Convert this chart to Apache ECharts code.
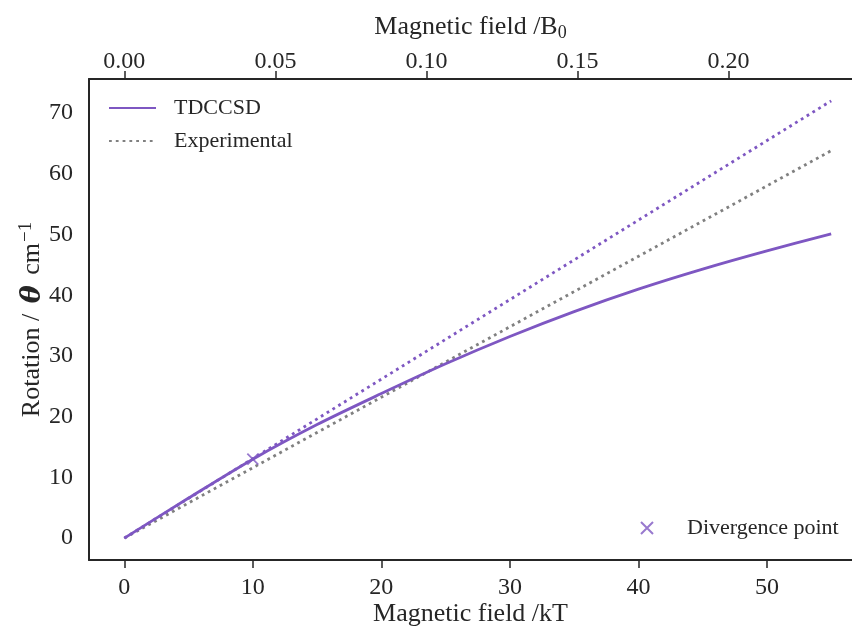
<!DOCTYPE html>
<html>
<head>
<meta charset="utf-8">
<script src="https://cdn.jsdelivr.net/npm/echarts@6/dist/echarts.min.js"></script>
<style>html,body{margin:0;padding:0;background:#fff}#c{width:852px;height:628px}</style>
</head>
<body>
<div id="c"></div>
<script>
// Data (magnetic field in kT, rotation in cm^-1)
const fieldKT = [0, 5, 10, 15, 20, 25, 30, 35, 40, 45, 50, 55];
const tdccsd = [0, 6.6, 13.0, 18.7, 23.8, 28.7, 33.2, 37.3, 41.0, 44.3, 47.3, 50.1];
const extrapField = [0, 55];
const extrapValues = [0, 72.0];
const experimentalField = [0, 55];
const experimentalValues = [0, 63.8];
const divergenceField = [10];
const divergenceValues = [13.0];
const bottomTicks = [0, 10, 20, 30, 40, 50];
const topTicks = [0, 0.05, 0.10, 0.15, 0.20];
const yTicks = [0, 10, 20, 30, 40, 50, 60, 70];
const B0_kT = 235.05;

const pairs = (xs, ys) => xs.map((x, i) => [x, ys[i]]);
const purple = '#7e57c2';
const gray = '#808080';
const ink = '#262626';
const font = 'Liberation Serif';
const xMin = -2.75, xMax = 56.62;

const chart = echarts.init(document.getElementById('c'), null, {renderer: 'canvas'});
chart.setOption({
  backgroundColor: '#fff',
  animation: false,
  textStyle: {fontFamily: font, color: ink},
  grid: {left: 89, top: 79, right: 0, height: 481, containLabel: false, outerBoundsMode: 'none'},
  xAxis: [
    {
      type: 'value', position: 'bottom', min: xMin, max: xMax,
      name: 'Magnetic field /kT', nameLocation: 'middle', nameGap: 41, nameMoveOverlap: false,
      nameTextStyle: {fontFamily: font, fontSize: 26, color: ink},
      axisLine: {show: true, onZero: false, lineStyle: {color: ink, width: 2}},
      axisTick: {show: true, length: 8, customValues: bottomTicks, lineStyle: {color: ink, width: 1.5}},
      axisLabel: {customValues: bottomTicks, margin: 16, fontFamily: font, fontSize: 24, color: ink},
      splitLine: {show: false}
    },
    {
      type: 'value', position: 'top', min: xMin / B0_kT, max: xMax / B0_kT,
      name: 'Magnetic field /B{sub|0}', nameLocation: 'middle', nameGap: 37,
      nameTextStyle: {fontFamily: font, fontSize: 26, color: ink,
        rich: {sub: {fontFamily: font, fontSize: 18, color: ink, verticalAlign: 'bottom', padding: [12, 0, 0, 0]}}},
      axisLine: {show: true, onZero: false, lineStyle: {color: ink, width: 2}},
      axisTick: {show: true, length: 8, customValues: topTicks, lineStyle: {color: ink, width: 1.5}},
      axisLabel: {customValues: topTicks, margin: 5, fontFamily: font, fontSize: 24, color: ink,
        formatter: v => v.toFixed(2)},
      splitLine: {show: false}
    }
  ],
  yAxis: {
    type: 'value', min: -3.6, max: 75.6,
    name: 'Rotation / {th|θ} cm{sup|−1}', nameLocation: 'middle', nameGap: 41, nameRotate: 90, nameMoveOverlap: false,
    nameTextStyle: {fontFamily: font, fontSize: 26, color: ink,
      rich: {
        th: {fontFamily: 'DejaVu Serif', fontStyle: 'italic', fontWeight: 'bold', fontSize: 27, color: ink, padding: [0, 4, 0, 4]},
        sup: {fontFamily: font, fontSize: 19, color: ink, verticalAlign: 'top', padding: [0, 0, 12, 1]}
      }},
    axisLine: {show: true, onZero: false, lineStyle: {color: ink, width: 2}},
    axisTick: {show: false},
    axisLabel: {customValues: yTicks, margin: 16, fontFamily: font, fontSize: 24, color: ink},
    splitLine: {show: false}
  },
  legend: [
    {
      data: ['TDCCSD', 'Experimental'], orient: 'vertical', left: 108, top: 97, padding: 0,
      itemWidth: 47, itemHeight: 14, itemGap: 11,
      itemStyle: {color: 'rgba(0,0,0,0)', borderWidth: 0, opacity: 0},
      textStyle: {fontFamily: font, fontSize: 22, color: ink, padding: [0, 0, 0, 13]}
    },
    {
      data: ['Divergence point'], orient: 'vertical', left: 640, top: 517, padding: 0,
      itemWidth: 70, itemHeight: 12,
      textStyle: {fontFamily: font, fontSize: 22, color: ink}
    }
  ],
  series: [
    {
      name: 'Experimental', type: 'line', xAxisIndex: 0, data: pairs(experimentalField, experimentalValues),
      symbol: 'none', lineStyle: {color: gray, width: 2.8, type: [2.8, 4.0], cap: 'butt'}, itemStyle: {color: gray}, z: 2
    },
    {
      name: 'TDCCSD extrapolation', type: 'line', xAxisIndex: 0, data: pairs(extrapField, extrapValues),
      symbol: 'none', lineStyle: {color: purple, width: 2.8, type: [2.8, 4.0], cap: 'butt'}, itemStyle: {color: purple}, z: 2
    },
    {
      name: 'TDCCSD', type: 'line', xAxisIndex: 0, data: pairs(fieldKT, tdccsd), smooth: 0.3,
      symbol: 'none', lineStyle: {color: purple, width: 2.8}, itemStyle: {color: purple}, z: 3
    },
    {
      name: 'Divergence point', type: 'scatter', xAxisIndex: 0, data: pairs(divergenceField, divergenceValues),
      symbol: 'path://M0,0L10,10M10,0L0,10', symbolSize: 11,
      itemStyle: {color: 'rgba(0,0,0,0)', borderColor: purple, borderWidth: 1.8}, z: 4
    }
  ]
});
</script>
</body>
</html>
